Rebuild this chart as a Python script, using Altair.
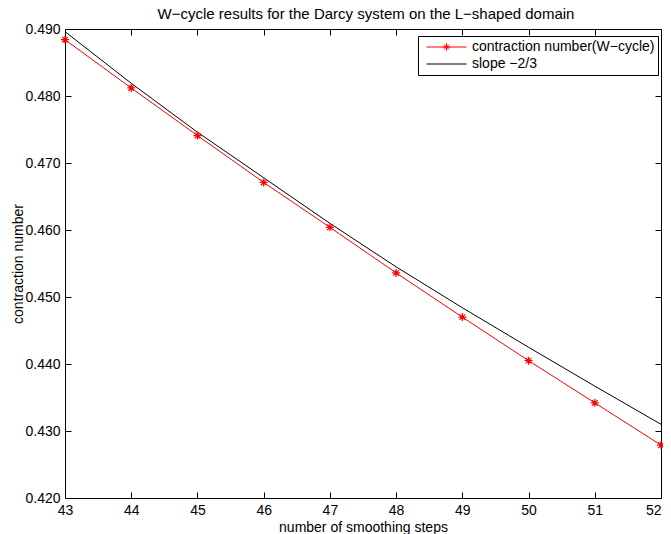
import altair as alt
import pandas as pd

steps = [43, 44, 45, 46, 47, 48, 49, 50, 51, 52]
contraction = [0.4884, 0.4812, 0.4741, 0.4671, 0.4604, 0.4536, 0.4470, 0.4405, 0.4342, 0.4279]
slope_ref = [0.4896, 0.4819, 0.4746, 0.4678, 0.4610, 0.4545, 0.4484, 0.4425, 0.4367, 0.4310]
series_names = ["contraction number(W\u2212cycle)", "slope \u22122/3"]
series_colors = ["#ff0000", "#000000"]
x_ticks = [43, 44, 45, 46, 47, 48, 49, 50, 51, 52]
y_ticks = [0.42, 0.43, 0.44, 0.45, 0.46, 0.47, 0.48, 0.49]

FONT = "Liberation Sans"
FS = 14
ASTERISK = "M0,-1L0,1M-1,0L1,0M-0.7,-0.7L0.7,0.7M-0.7,0.7L0.7,-0.7"
LEG_RED = "M-1,0L1,0M0,-0.19L0,0.19M-0.19,0L0.19,0M-0.13,-0.13L0.13,0.13M-0.13,0.13L0.13,-0.13"
LEG_BLACK = "M-1,0L1,0"

df = pd.DataFrame({"steps": steps, "contraction": contraction, "slope": slope_ref})
legend_df = pd.DataFrame({"series": series_names})

xscale = alt.Scale(domain=[43, 52], nice=False, zero=False)
yscale = alt.Scale(domain=[0.42, 0.49], nice=False, zero=False)

x_bottom = alt.X("steps:Q", scale=xscale,
                 axis=alt.Axis(orient="bottom", values=x_ticks, format="d", offset=-6, tickSize=6,
                               domain=False, grid=False, labelPadding=5, labelFlush=False,
                               labelAlign={"condition": {"test": "datum.value >= 52", "value": "right"},
                                           "value": "center"},
                               labelOverlap=False, title="number of smoothing steps", titlePadding=3))
y_left = alt.Y("contraction:Q", scale=yscale,
               axis=alt.Axis(orient="left", values=y_ticks, format=".3f", offset=-6, tickSize=6,
                             domain=False, grid=False, labelPadding=5, labelFlush=False,
                             labelOverlap=False, title="contraction number", titlePadding=-1))
x_top = alt.X("steps:Q", scale=xscale,
              axis=alt.Axis(orient="top", values=x_ticks, offset=-6, tickSize=6, domain=False,
                            grid=False, labels=False, title=None))
y_right = alt.Y("slope:Q", scale=yscale,
                axis=alt.Axis(orient="right", values=y_ticks, offset=-6, tickSize=6, domain=False,
                              grid=False, labels=False, title=None))

red_line = alt.Chart(df).mark_line(color="#ff0000", strokeWidth=1).encode(x=x_bottom, y=y_left)
red_pts = alt.Chart(df).mark_point(shape=ASTERISK, size=64, filled=False, color="#ff0000",
                                   strokeWidth=1.2, opacity=1).encode(
    x=alt.X("steps:Q", scale=xscale, axis=None),
    y=alt.Y("contraction:Q", scale=yscale, axis=None))
black_line = alt.Chart(df).mark_line(color="#000000", strokeWidth=1).encode(x=x_top, y=y_right)

leg = alt.Legend(orient="none", legendX=353, legendY=7, title=None, symbolSize=1600,
                 symbolStrokeWidth=1, symbolOpacity=1, clipHeight=16, labelFont=FONT,
                 labelFontSize=FS, labelColor="black", labelOffset=5, labelLimit=400, padding=3,
                 symbolOffset=5, rowPadding=1, strokeColor="black", fillColor="white",
                 cornerRadius=0)
legend_layer = alt.Chart(legend_df).mark_point(opacity=0, filled=False).encode(
    color=alt.Color("series:N", scale=alt.Scale(domain=series_names, range=series_colors), legend=leg),
    shape=alt.Shape("series:N", scale=alt.Scale(domain=series_names, range=[LEG_RED, LEG_BLACK]), legend=leg),
)

chart = alt.layer(black_line, red_line, red_pts, legend_layer).resolve_axis(
    x="independent", y="independent"
).properties(
    width=596, height=469,
    background="white",
    title=alt.TitleParams("W\u2212cycle results for the Darcy system on the L\u2212shaped domain",
                          font=FONT, fontSize=15, fontWeight="normal", color="black", offset=0,
                          anchor="middle", dx=3),
    autosize=alt.AutoSizeParams(type="none"),
    padding={"left": 57, "top": 21, "right": 2, "bottom": 40},
).configure_view(stroke="black", strokeWidth=1).configure_axis(
    labelFont=FONT, labelFontSize=FS, labelColor="black", titleFont=FONT, titleFontSize=FS,
    titleFontWeight="normal", titleColor="black", tickColor="black", tickWidth=1,
)

chart.save("out.html", embed_options={"renderer": "svg", "actions": False})
